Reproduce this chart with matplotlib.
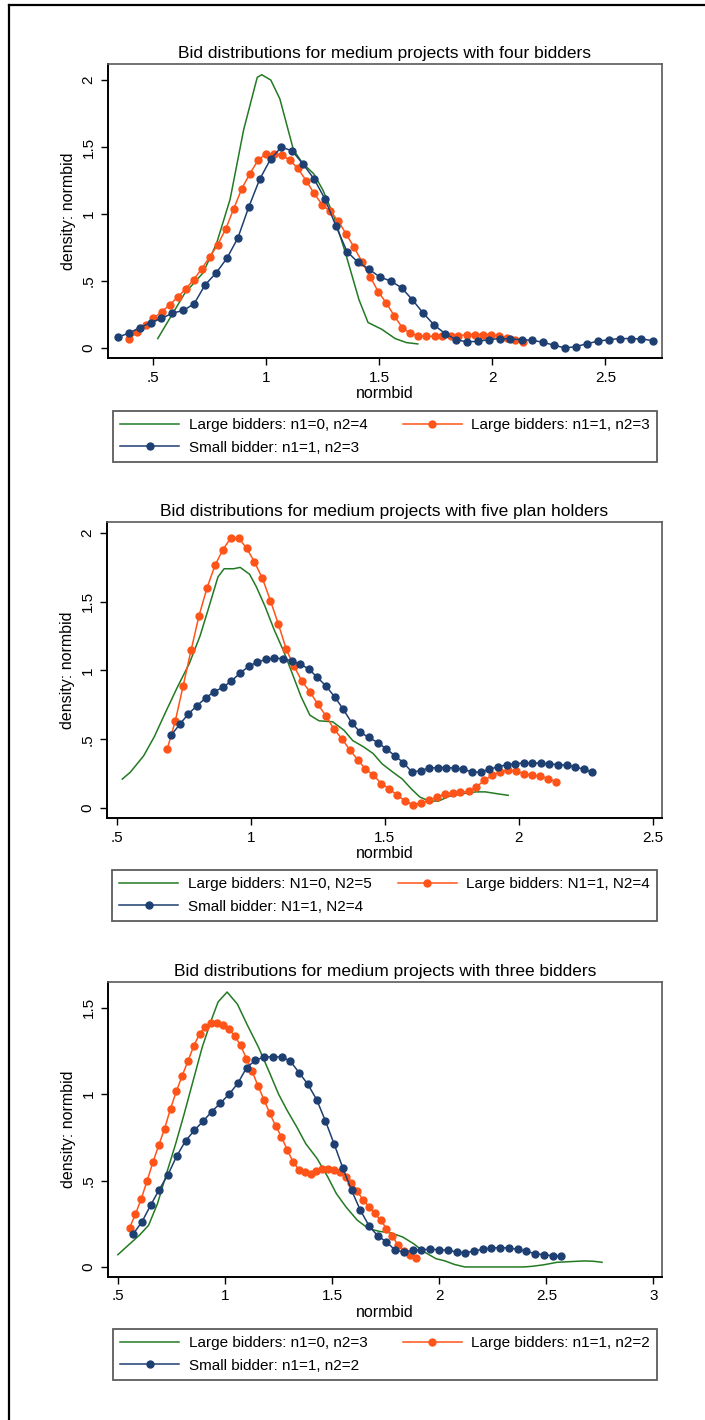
import matplotlib

matplotlib.use("Agg")
import matplotlib.pyplot as plt
from matplotlib.lines import Line2D

plt.rcParams["font.family"] = ["Liberation Sans", "DejaVu Sans"]

GREEN = "#237a23"
ORANGE = "#ff5419"
NAVY = "#1e3f72"

# ---- panel 1: four bidders ----
title_1 = "Bid distributions for medium projects with four bidders"
labels_1 = ["Large bidders: n1=0, n2=4", "Large bidders: n1=1, n2=3", "Small bidder: n1=1, n2=3"]
green_1_x = [0.52, 0.58, 0.64, 0.72, 0.78, 0.84, 0.90, 0.96, 0.98, 1.02, 1.06, 1.12, 1.16, 1.21, 1.25,
             1.30, 1.35, 1.41, 1.45, 1.51, 1.57, 1.62, 1.67]
green_1_y = [0.07, 0.24, 0.41, 0.56, 0.78, 1.11, 1.63, 2.02, 2.04, 2.00, 1.86, 1.48, 1.38, 1.30, 1.18,
             0.98, 0.71, 0.36, 0.19, 0.14, 0.07, 0.04, 0.03]
orange_1_x = [0.395, 0.43, 0.466, 0.501, 0.537, 0.572, 0.608, 0.643, 0.679, 0.714, 0.75, 0.785, 0.821,
              0.856, 0.892, 0.927, 0.963, 0.998, 1.034, 1.069, 1.105, 1.14, 1.176, 1.211, 1.247, 1.282,
              1.318, 1.353, 1.389, 1.424, 1.46, 1.495, 1.531, 1.566, 1.602, 1.637, 1.673, 1.708, 1.744,
              1.779, 1.815, 1.85, 1.886, 1.921, 1.957, 1.992, 2.028, 2.063, 2.099, 2.134]
orange_1_y = [0.07, 0.12, 0.17, 0.22, 0.27, 0.32, 0.38, 0.44, 0.51, 0.59, 0.68, 0.77, 0.89, 1.04, 1.19,
              1.30, 1.40, 1.45, 1.45, 1.44, 1.40, 1.34, 1.25, 1.155, 1.07, 1.02, 0.95, 0.85, 0.75, 0.64,
              0.53, 0.42, 0.335, 0.24, 0.15, 0.11, 0.09, 0.087, 0.087, 0.087, 0.087, 0.09, 0.10, 0.10,
              0.10, 0.10, 0.087, 0.075, 0.062, 0.045]
navy_1_x = [0.343, 0.391, 0.44, 0.488, 0.536, 0.585, 0.633, 0.681, 0.729, 0.778, 0.826, 0.874, 0.922,
            0.971, 1.019, 1.067, 1.115, 1.164, 1.212, 1.26, 1.308, 1.357, 1.405, 1.453, 1.501, 1.55,
            1.598, 1.646, 1.694, 1.743, 1.791, 1.839, 1.887, 1.936, 1.984, 2.032, 2.08, 2.129, 2.177,
            2.225, 2.273, 2.322, 2.37, 2.418, 2.466, 2.515, 2.563, 2.611, 2.659, 2.708]
navy_1_y = [0.08, 0.11, 0.15, 0.19, 0.22, 0.26, 0.28, 0.33, 0.47, 0.56, 0.67, 0.82, 1.05, 1.26, 1.41,
            1.50, 1.47, 1.37, 1.26, 1.11, 0.91, 0.72, 0.64, 0.59, 0.53, 0.50, 0.45, 0.36, 0.26, 0.17,
            0.107, 0.062, 0.045, 0.05, 0.062, 0.07, 0.067, 0.062, 0.057, 0.042, 0.02, 0.0, 0.01, 0.032,
            0.05, 0.062, 0.07, 0.07, 0.067, 0.055]
xticks_1 = [0.5, 1, 1.5, 2, 2.5]
yticks_1 = [0, 0.5, 1, 1.5, 2]

# ---- panel 2: five plan holders ----
title_2 = "Bid distributions for medium projects with five plan holders"
labels_2 = ["Large bidders: N1=0, N2=5", "Large bidders: N1=1, N2=4", "Small bidder: N1=1, N2=4"]
green_2_x = [0.52, 0.55, 0.60, 0.64, 0.68, 0.726, 0.77, 0.81, 0.84, 0.877, 0.90, 0.936, 0.96, 0.995,
             1.02, 1.053, 1.087, 1.12, 1.15, 1.187, 1.22, 1.254, 1.305, 1.347, 1.38, 1.42, 1.456, 1.49,
             1.53, 1.565, 1.598, 1.63, 1.665, 1.70, 1.74, 1.79, 1.84, 1.875, 1.917, 1.96]
green_2_y = [0.21, 0.26, 0.38, 0.52, 0.69, 0.88, 1.05, 1.25, 1.44, 1.68, 1.74, 1.74, 1.75, 1.70, 1.61,
             1.465, 1.295, 1.15, 1.00, 0.81, 0.675, 0.634, 0.627, 0.566, 0.49, 0.445, 0.396, 0.32, 0.26,
             0.21, 0.14, 0.08, 0.05, 0.05, 0.085, 0.104, 0.117, 0.117, 0.104, 0.092]
orange_2_x = [0.688, 0.718, 0.747, 0.777, 0.806, 0.836, 0.866, 0.895, 0.925, 0.954, 0.984, 1.013, 1.043,
              1.073, 1.102, 1.132, 1.161, 1.191, 1.22, 1.25, 1.28, 1.309, 1.339, 1.368, 1.398, 1.427,
              1.457, 1.487, 1.516, 1.546, 1.575, 1.605, 1.634, 1.664, 1.694, 1.723, 1.753, 1.782, 1.812,
              1.841, 1.871, 1.901, 1.93, 1.96, 1.989, 2.019, 2.048, 2.078, 2.108, 2.138]
orange_2_y = [0.43, 0.634, 0.887, 1.15, 1.395, 1.60, 1.764, 1.878, 1.964, 1.964, 1.89, 1.79, 1.67,
              1.507, 1.34, 1.154, 1.03, 0.92, 0.846, 0.753, 0.67, 0.576, 0.505, 0.425, 0.352, 0.284,
              0.238, 0.177, 0.139, 0.092, 0.051, 0.024, 0.036, 0.056, 0.08, 0.10, 0.112, 0.117, 0.12,
              0.153, 0.20, 0.24, 0.26, 0.275, 0.267, 0.25, 0.238, 0.233, 0.214, 0.19]
navy_2_x = [0.703, 0.735, 0.767, 0.799, 0.831, 0.863, 0.895, 0.927, 0.959, 0.992, 1.024, 1.056, 1.088,
            1.12, 1.152, 1.184, 1.216, 1.248, 1.28, 1.312, 1.344, 1.376, 1.408, 1.44, 1.473, 1.505,
            1.537, 1.569, 1.601, 1.633, 1.665, 1.697, 1.729, 1.761, 1.793, 1.825, 1.857, 1.889, 1.921,
            1.954, 1.986, 2.018, 2.05, 2.082, 2.114, 2.146, 2.178, 2.21, 2.242, 2.274]
navy_2_y = [0.53, 0.61, 0.685, 0.744, 0.80, 0.846, 0.877, 0.923, 0.98, 1.03, 1.062, 1.08, 1.09, 1.086,
            1.07, 1.047, 1.01, 0.95, 0.887, 0.81, 0.72, 0.62, 0.55, 0.513, 0.476, 0.43, 0.38, 0.33,
            0.26, 0.272, 0.29, 0.294, 0.294, 0.29, 0.28, 0.262, 0.26, 0.28, 0.30, 0.313, 0.323, 0.326,
            0.326, 0.326, 0.32, 0.316, 0.31, 0.30, 0.28, 0.26]
xticks_2 = [0.5, 1, 1.5, 2, 2.5]
yticks_2 = [0, 0.5, 1, 1.5, 2]

# ---- panel 3: three bidders ----
title_3 = "Bid distributions for medium projects with three bidders"
labels_3 = ["Large bidders: n1=0, n2=3", "Large bidders: n1=1, n2=2", "Small bidder: n1=1, n2=2"]
green_3_x = [0.50, 0.548, 0.60, 0.643, 0.685, 0.727, 0.77, 0.81, 0.852, 0.894, 0.936, 0.968, 1.01,
             1.058, 1.104, 1.156, 1.21, 1.25, 1.29, 1.335, 1.377, 1.43, 1.48, 1.52, 1.565, 1.618, 1.67,
             1.72, 1.775, 1.83, 1.88, 1.93, 1.985, 2.027, 2.07, 2.12, 2.215, 2.32, 2.394, 2.436, 2.49,
             2.55, 2.614, 2.677, 2.72, 2.76]
green_3_y = [0.071, 0.125, 0.183, 0.24, 0.366, 0.54, 0.713, 0.887, 1.08, 1.272, 1.427, 1.533, 1.59,
             1.52, 1.40, 1.272, 1.118, 1.0, 0.906, 0.81, 0.713, 0.627, 0.52, 0.424, 0.347, 0.27, 0.222,
             0.206, 0.197, 0.173, 0.135, 0.087, 0.048, 0.035, 0.015, 0.0, 0.0, 0.0, 0.0, 0.004, 0.013,
             0.027, 0.031, 0.035, 0.033, 0.027]
orange_3_x = [0.555, 0.582, 0.609, 0.637, 0.664, 0.691, 0.718, 0.746, 0.773, 0.8, 0.827, 0.855, 0.882,
              0.909, 0.936, 0.964, 0.991, 1.018, 1.045, 1.073, 1.1, 1.127, 1.154, 1.182, 1.209, 1.236,
              1.263, 1.291, 1.318, 1.345, 1.372, 1.4, 1.427, 1.454, 1.481, 1.509, 1.536, 1.563, 1.59,
              1.618, 1.645, 1.672, 1.699, 1.727, 1.754, 1.781, 1.808, 1.836, 1.863, 1.89]
orange_3_y = [0.227, 0.305, 0.393, 0.50, 0.607, 0.704, 0.80, 0.916, 1.016, 1.105, 1.19, 1.28, 1.35,
              1.39, 1.413, 1.413, 1.40, 1.378, 1.336, 1.282, 1.205, 1.132, 1.047, 0.968, 0.889, 0.817,
              0.754, 0.677, 0.607, 0.563, 0.55, 0.54, 0.555, 0.567, 0.567, 0.563, 0.55, 0.52, 0.488,
              0.438, 0.386, 0.349, 0.31, 0.27, 0.222, 0.18, 0.125, 0.093, 0.067, 0.052]
navy_3_x = [0.571, 0.612, 0.653, 0.693, 0.734, 0.775, 0.816, 0.857, 0.897, 0.938, 0.979, 1.02, 1.061,
            1.101, 1.142, 1.183, 1.224, 1.265, 1.305, 1.346, 1.387, 1.428, 1.469, 1.509, 1.55, 1.591,
            1.632, 1.673, 1.713, 1.754, 1.795, 1.836, 1.877, 1.917, 1.958, 1.999, 2.04, 2.081, 2.121,
            2.162, 2.203, 2.244, 2.285, 2.325, 2.366, 2.407, 2.448, 2.489, 2.529, 2.57]
navy_3_y = [0.19, 0.26, 0.357, 0.447, 0.534, 0.642, 0.729, 0.79, 0.842, 0.898, 0.948, 1.0, 1.064,
            1.153, 1.195, 1.215, 1.215, 1.215, 1.19, 1.124, 1.056, 0.968, 0.844, 0.713, 0.573, 0.443,
            0.328, 0.237, 0.18, 0.145, 0.096, 0.087, 0.096, 0.10, 0.102, 0.10, 0.096, 0.087, 0.081,
            0.093, 0.102, 0.11, 0.112, 0.11, 0.102, 0.09, 0.077, 0.071, 0.065, 0.062]
xticks_3 = [0.5, 1, 1.5, 2, 2.5, 3]
yticks_3 = [0, 0.5, 1, 1.5]

W, H = 705, 1420


def tick_text(v):
    # Stata style: ".5" rather than "0.5"
    s = f"{v:g}"
    return s[1:] if s.startswith("0.") else s


def draw_panel(fig, box, legend_box, xlim, ylim, title, labels,
               gx, gy, ox, oy, nx, ny, xticks, yticks):
    left, top, right, bottom = box
    ax = fig.add_axes([left / W, 1 - bottom / H, (right - left) / W, (bottom - top) / H])

    g, = ax.plot(gx, gy, color=GREEN, lw=1.1)
    o, = ax.plot(ox, oy, color=ORANGE, lw=1.1, marker="o", ms=5, mec=ORANGE)
    n, = ax.plot(nx, ny, color=NAVY, lw=1.1, marker="o", ms=5, mec=NAVY)

    ax.set_xlim(*xlim)
    ax.set_ylim(*ylim)
    ax.set_xticks(xticks)
    ax.set_xticklabels([tick_text(v) for v in xticks])
    ax.set_yticks(yticks)
    ax.set_yticklabels([tick_text(v) for v in yticks], rotation=90, va="center")
    ax.tick_params(direction="out", length=5, width=1, labelsize=11, pad=4, colors="black")

    for side in ("left", "bottom"):
        ax.spines[side].set_color("black")
        ax.spines[side].set_linewidth(1.4)
    for side in ("top", "right"):
        ax.spines[side].set_color("#5a5a5a")
        ax.spines[side].set_linewidth(1.2)

    ax.set_title(title, fontsize=12.5, pad=4)
    ax.set_xlabel("normbid", fontsize=11.5, labelpad=1)
    ax.set_ylabel("density: normbid", fontsize=11.5, labelpad=4)

    # row-wise order like Stata: green, orange / navy
    lx0, ly0, lx1, ly1 = legend_box
    leg = ax.legend([g, n, o], [labels[0], labels[2], labels[1]], ncol=2, mode="expand",
                    loc="upper left", fontsize=11, frameon=True, fancybox=False,
                    bbox_to_anchor=(lx0 / W, 1 - ly1 / H, (lx1 - lx0) / W, (ly1 - ly0) / H),
                    bbox_transform=fig.transFigure, borderaxespad=0,
                    handlelength=3.9, handletextpad=0.6, labelspacing=0.58, borderpad=0.45)
    leg.get_frame().set_edgecolor("#333333")
    leg.get_frame().set_linewidth(1.3)
    return ax


fig = plt.figure(figsize=(W / 100, H / 100), dpi=100)

draw_panel(fig, (108, 64, 662, 358), (113, 411, 657, 462), (0.30, 2.75), (-0.075, 2.12),
           title_1, labels_1, green_1_x, green_1_y, orange_1_x, orange_1_y, navy_1_x, navy_1_y,
           xticks_1, yticks_1)
draw_panel(fig, (107, 522, 662, 818), (112, 870, 657, 921), (0.463, 2.534), (-0.073, 2.08),
           title_2, labels_2, green_2_x, green_2_y, orange_2_x, orange_2_y, navy_2_x, navy_2_y,
           xticks_2, yticks_2)
draw_panel(fig, (108, 982, 662, 1277), (113, 1329, 657, 1380), (0.454, 3.04), (-0.058, 1.648),
           title_3, labels_3, green_3_x, green_3_y, orange_3_x, orange_3_y, navy_3_x, navy_3_y,
           xticks_3, yticks_3)

# page border visible on the left and top edges
fig.add_artist(Line2D([9 / W, 9 / W], [0, 1 - 5 / H], transform=fig.transFigure, color="black", lw=1.6))
fig.add_artist(Line2D([9 / W, 1], [1 - 5 / H, 1 - 5 / H], transform=fig.transFigure, color="black", lw=1.6))

fig.savefig("out.png", dpi=100)
